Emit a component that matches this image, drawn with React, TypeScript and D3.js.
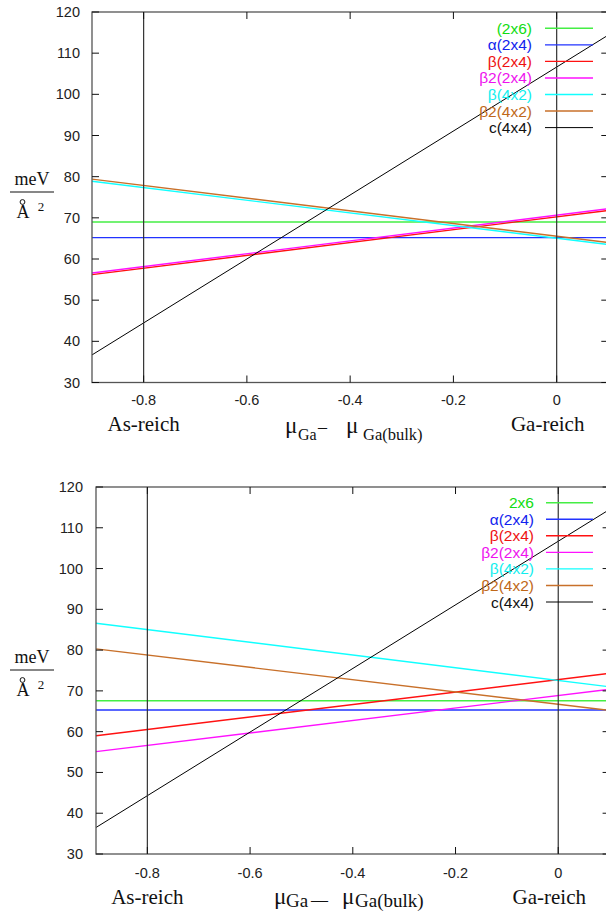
import React from "react";
import * as d3 from "d3";

const xTicks = [-0.8, -0.6, -0.4, -0.2, 0];
const xTickLabels = ["-0.8", "-0.6", "-0.4", "-0.2", "0"];
const yTicks = [30, 40, 50, 60, 70, 80, 90, 100, 110, 120];
const vLines = [-0.8, 0];
const xDomain = [-0.9, 0.1];

const topLabels = ["(2x6)", "α(2x4)", "β(2x4)", "β2(2x4)", "β(4x2)", "β2(4x2)", "c(4x4)"];
const bottomLabels = ["2x6", "α(2x4)", "β(2x4)", "β2(2x4)", "β(4x2)", "β2(4x2)", "c(4x4)"];

// values at x = -0.9 and x = 0.1
const topStart = [69.0, 65.2, 56.2, 56.6, 78.9, 79.4, 36.7];
const topEnd = [69.0, 65.2, 71.8, 72.2, 63.5, 64.0, 114.4];
const bottomStart = [67.6, 65.3, 59.0, 55.1, 86.6, 80.3, 36.5];
const bottomEnd = [67.6, 65.3, 74.3, 70.4, 71.0, 65.2, 114.5];

const lineColors = ["#44ee44", "#2233ff", "#ff1111", "#ff11ff", "#11ffff", "#c8702a", "#000000"];
const textColors = ["#11dd11", "#1122ee", "#ee1111", "#ee11ee", "#11eeee", "#c06818", "#111111"];

const SANS = "'Liberation Sans', Arial, sans-serif";
const SERIF = "'Liberation Serif', 'Times New Roman', serif";

type PanelProps = {
  left: number; right: number; top: number; bottom: number;
  labels: string[]; start: number[]; end: number[];
  yLabelRight: number; xLabelY: number;
  legendTextX: number; legendLineX0: number; legendLineX1: number; legendY0: number; legendDy: number;
  fracY: number; variant: "top" | "bottom";
};

function Panel(p: PanelProps) {
  const x = d3.scaleLinear().domain(xDomain).range([p.left, p.right]);
  const y = d3.scaleLinear().domain([30, 120]).range([p.bottom, p.top]);
  const line = d3.line<[number, number]>().x((d) => x(d[0])).y((d) => y(d[1]));
  const frame = "#555";
  const tl = 7;
  const rowsY = p.labels.map((_, i) => p.legendY0 + i * p.legendDy);
  return (
    <g>
      {p.labels.map((lab, i) => (
        <path key={lab + i} d={line([[xDomain[0], p.start[i]], [xDomain[1], p.end[i]]]) || ""}
          stroke={lineColors[i]} strokeWidth={i === 6 ? 1 : 1.4} fill="none" />
      ))}
      {vLines.map((v) => (
        <line key={v} x1={x(v)} x2={x(v)} y1={p.top} y2={p.bottom} stroke="#333" strokeWidth={1.2} />
      ))}
      <rect x={p.left} y={p.top} width={p.right - p.left} height={p.bottom - p.top} fill="none" stroke={frame} strokeWidth={1.3} />
      {yTicks.map((t) => (
        <g key={"y" + t}>
          <line x1={p.left} x2={p.left + tl} y1={y(t)} y2={y(t)} stroke="#111" />
          <line x1={p.right} x2={p.right - tl} y1={y(t)} y2={y(t)} stroke="#111" />
          <text x={p.yLabelRight} y={y(t) + 5} textAnchor="end" fontFamily={SANS} fontSize={14.5} fill="#222">{t}</text>
        </g>
      ))}
      {xTicks.map((t, i) => (
        <g key={"x" + t}>
          <line x1={x(t)} x2={x(t)} y1={p.bottom} y2={p.bottom - tl} stroke="#111" />
          <line x1={x(t)} x2={x(t)} y1={p.top} y2={p.top + tl} stroke="#111" />
          <text x={x(t)} y={p.xLabelY} textAnchor="middle" fontFamily={SANS} fontSize={14.5} fill="#222">{xTickLabels[i]}</text>
        </g>
      ))}
      {p.labels.map((lab, i) => (
        <g key={"l" + i}>
          <text x={p.legendTextX} y={rowsY[i] + 5.5} textAnchor="end" fontFamily={SANS} fontSize={15.5} fill={textColors[i]}>{lab}</text>
          <line x1={p.legendLineX0} x2={p.legendLineX1} y1={rowsY[i]} y2={rowsY[i]} stroke={lineColors[i]} strokeWidth={i === 6 ? 1 : 1.4} />
        </g>
      ))}
      <text x={32} y={p.fracY} textAnchor="middle" fontFamily={SERIF} fontSize={18} fill="#111">meV</text>
      <line x1={10} x2={54} y1={p.fracY + 7} y2={p.fracY + 7} stroke="#111" strokeWidth={1.2} />
      <text x={23} y={p.fracY + 33} textAnchor="middle" fontFamily={SERIF} fontSize={18} fill="#111">A</text>
      <circle cx={22.5} cy={p.fracY + 17} r={2.4} fill="none" stroke="#111" strokeWidth={1} />
      <text x={41} y={p.fracY + 26} textAnchor="middle" fontFamily={SERIF} fontSize={13} fill="#111">2</text>
      <text x={x(-0.8)} y={p.xLabelY + 26} textAnchor="middle" fontFamily={SERIF} fontSize={21} fill="#111">As-reich</text>
      <text x={x(0) - 9} y={p.xLabelY + 26} textAnchor="middle" fontFamily={SERIF} fontSize={21} fill="#111">Ga-reich</text>
      {p.variant === "top" ? (
        <g fontFamily={SERIF} fill="#111">
          <text x={285} y={p.xLabelY + 28} fontSize={23}>μ</text>
          <text x={298} y={p.xLabelY + 35} fontSize={16}>Ga</text>
          <text x={318} y={p.xLabelY + 28} fontSize={18}>–</text>
          <text x={346} y={p.xLabelY + 28} fontSize={23}>μ</text>
          <text x={363} y={p.xLabelY + 35} fontSize={16.5}>Ga(bulk)</text>
        </g>
      ) : (
        <g fontFamily={SERIF} fill="#111">
          <text x={274} y={p.xLabelY + 26} fontSize={23}>μ</text>
          <text x={286} y={p.xLabelY + 29} fontSize={19}>Ga</text>
          <text x={311} y={p.xLabelY + 27} fontSize={17}>—</text>
          <text x={342} y={p.xLabelY + 26} fontSize={23}>μ</text>
          <text x={355} y={p.xLabelY + 29} fontSize={19}>Ga(bulk)</text>
        </g>
      )}
    </g>
  );
}

export default function App() {
  return (
    <svg width={606} height={911} viewBox="0 0 606 911"
      style={{ position: "absolute", left: 0, top: 0, background: "#fff" }}>
      <rect x={0} y={0} width={606} height={911} fill="#fff" />
      <Panel left={92} right={608.3} top={12} bottom={382.5}
        labels={topLabels} start={topStart} end={topEnd}
        yLabelRight={80} xLabelY={405}
        legendTextX={532} legendLineX0={545} legendLineX1={593} legendY0={28.3} legendDy={16.55}
        fracY={185} variant="top" />
      <Panel left={96} right={609.6} top={487} bottom={854}
        labels={bottomLabels} start={bottomStart} end={bottomEnd}
        yLabelRight={83} xLabelY={878}
        legendTextX={534} legendLineX0={546} legendLineX1={593} legendY0={502.7} legendDy={16.55}
        fracY={663} variant="bottom" />
    </svg>
  );
}
